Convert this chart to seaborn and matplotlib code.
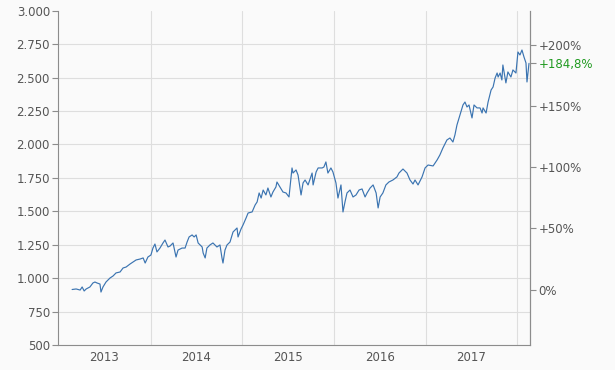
import matplotlib
matplotlib.use("Agg")
import matplotlib.pyplot as plt
import seaborn as sns
import pandas as pd

dates = [
    "2013-02-22", "2013-03-10", "2013-03-26", "2013-04-03", "2013-04-11", "2013-04-19",
    "2013-05-04", "2013-05-16", "2013-05-24", "2013-06-01", "2013-06-13", "2013-06-17",
    "2013-06-25", "2013-07-07", "2013-07-23", "2013-08-04", "2013-08-16", "2013-09-01",
    "2013-09-13", "2013-09-25", "2013-10-11", "2013-10-23", "2013-11-04", "2013-11-20",
    "2013-12-02", "2013-12-10", "2013-12-21", "2014-01-02", "2014-01-10", "2014-01-18",
    "2014-01-26", "2014-02-07", "2014-02-19", "2014-02-27", "2014-03-11", "2014-03-19",
    "2014-03-31", "2014-04-12", "2014-04-20", "2014-05-06", "2014-05-18", "2014-05-26",
    "2014-06-03", "2014-06-15", "2014-06-23", "2014-07-01", "2014-07-09", "2014-07-25",
    "2014-07-29", "2014-08-06", "2014-08-13", "2014-08-25", "2014-09-06", "2014-09-22",
    "2014-10-04", "2014-10-12", "2014-10-16", "2014-10-24", "2014-11-01", "2014-11-13",
    "2014-11-25", "2014-12-11", "2014-12-15", "2014-12-27", "2015-01-04", "2015-01-16",
    "2015-01-24", "2015-02-09", "2015-02-21", "2015-03-01", "2015-03-09", "2015-03-17",
    "2015-03-25", "2015-04-05", "2015-04-13", "2015-04-25", "2015-05-03", "2015-05-15",
    "2015-05-19", "2015-05-31", "2015-06-12", "2015-06-24", "2015-07-06", "2015-07-18",
    "2015-07-22", "2015-08-03", "2015-08-11", "2015-08-23", "2015-08-31", "2015-09-08",
    "2015-09-20", "2015-10-06", "2015-10-10", "2015-10-22", "2015-10-30", "2015-11-15",
    "2015-11-22", "2015-11-30", "2015-12-08", "2015-12-20", "2015-12-28", "2016-01-09",
    "2016-01-17", "2016-01-29", "2016-02-06", "2016-02-14", "2016-02-22", "2016-03-05",
    "2016-03-17", "2016-03-29", "2016-04-10", "2016-04-22", "2016-05-04", "2016-05-12",
    "2016-05-24", "2016-06-05", "2016-06-17", "2016-06-25", "2016-07-03", "2016-07-14",
    "2016-07-26", "2016-08-07", "2016-08-23", "2016-09-08", "2016-09-16", "2016-10-02",
    "2016-10-18", "2016-10-30", "2016-11-11", "2016-11-19", "2016-12-01", "2016-12-17",
    "2016-12-29", "2017-01-10", "2017-01-30", "2017-02-15", "2017-02-26", "2017-03-10",
    "2017-03-26", "2017-04-07", "2017-04-19", "2017-04-27", "2017-05-05", "2017-05-17",
    "2017-05-29", "2017-06-06", "2017-06-14", "2017-06-22", "2017-07-04", "2017-07-12",
    "2017-07-24", "2017-08-05", "2017-08-13", "2017-08-17", "2017-08-29", "2017-09-06",
    "2017-09-18", "2017-09-26", "2017-10-04", "2017-10-12", "2017-10-16", "2017-10-24",
    "2017-10-31", "2017-11-04", "2017-11-12", "2017-11-16", "2017-11-24", "2017-12-06",
    "2017-12-14", "2017-12-26", "2018-01-03", "2018-01-11", "2018-01-19", "2018-01-27",
    "2018-02-04", "2018-02-08", "2018-02-16",
]

values = [
    915, 919, 911, 934, 904, 919,
    934, 964, 971, 964, 956, 896,
    934, 971, 1001, 1016, 1039, 1046,
    1076, 1083, 1106, 1121, 1136, 1143,
    1151, 1113, 1158, 1173, 1225, 1255,
    1196, 1225, 1263, 1285, 1233, 1240,
    1263, 1158, 1210, 1225, 1225, 1270,
    1308, 1323, 1308, 1323, 1263, 1233,
    1188, 1151, 1225, 1248, 1263, 1233,
    1248, 1151, 1113, 1210, 1248, 1270,
    1345, 1375, 1308, 1368, 1398, 1450,
    1487, 1495, 1547, 1570, 1637, 1599,
    1659, 1622, 1674, 1607, 1644, 1682,
    1719, 1682, 1644, 1637, 1607, 1824,
    1786, 1809, 1771, 1622, 1712, 1734,
    1697, 1786, 1697, 1794, 1824, 1824,
    1831, 1869, 1786, 1824, 1794, 1712,
    1599, 1697, 1495, 1570, 1637, 1659,
    1607, 1622, 1659, 1667, 1607, 1637,
    1674, 1697, 1637, 1525, 1607, 1637,
    1697, 1719, 1734, 1757, 1786, 1816,
    1786, 1734, 1704, 1734, 1697, 1757,
    1824, 1846, 1839, 1884, 1921, 1973,
    2033, 2048, 2018, 2071, 2145, 2220,
    2295, 2317, 2280, 2295, 2198, 2295,
    2273, 2273, 2235, 2273, 2235, 2317,
    2407, 2430, 2497, 2534, 2504, 2534,
    2482, 2594, 2504, 2460, 2542, 2504,
    2557, 2534, 2691, 2669, 2706, 2654,
    2609, 2467, 2606,
]

y_ticks = [500, 750, 1000, 1250, 1500, 1750, 2000, 2250, 2500, 2750, 3000]
pct_ticks = [0, 50, 100, 150, 200]
year_labels = ["2013", "2014", "2015", "2016", "2017"]
year_bounds = ["2014-01-01", "2015-01-01", "2016-01-01", "2017-01-01", "2018-01-01"]

sns.set_theme(style="white")
plt.rcParams["font.family"] = ["DejaVu Sans"]

bg = "#fafafa"
txt = "#555555"
spine_c = "#8c8c8c"
grid_c = "#dedede"

fig = plt.figure(figsize=(6.15, 3.70), dpi=100, facecolor=bg)
ax = fig.add_axes([58.3 / 615, 1 - 345 / 370, (530 - 58.3) / 615, (345 - 10.7) / 370])
ax.set_facecolor(bg)

df = pd.DataFrame({"date": pd.to_datetime(dates), "value": values})
sns.lineplot(data=df, x="date", y="value", ax=ax, color="#3b74b1", linewidth=0.85)

ax.set_xlim(pd.Timestamp("2012-12-29"), pd.Timestamp("2018-02-20"))
ax.set_ylim(500, 3000)
ax.set_xlabel("")
ax.set_ylabel("")

ax.set_yticks(y_ticks)
ax.set_yticklabels([f"{v:,}".replace(",", ".") for v in y_ticks])
ax.set_xticks([pd.Timestamp(f"{y}-07-01") for y in year_labels])
ax.set_xticklabels(year_labels)
ax.set_xticks([pd.Timestamp(d) for d in year_bounds], minor=True)

ax.grid(False)
ax.grid(axis="y", which="major", color=grid_c, linewidth=0.8)
ax.grid(axis="x", which="minor", color=grid_c, linewidth=0.8)
ax.yaxis.get_gridlines()[-1].set_visible(False)

ax.tick_params(axis="x", which="both", length=0, pad=4, labelsize=8.5, labelcolor=txt)
ax.tick_params(axis="y", which="major", direction="out", length=4.5, width=0.8,
               color=spine_c, pad=1.5, labelsize=8.5, labelcolor=txt, left=True)

for s in ["left", "bottom", "right"]:
    ax.spines[s].set_visible(True)
    ax.spines[s].set_color(spine_c)
    ax.spines[s].set_linewidth(0.8)
ax.spines["top"].set_visible(False)

ax2 = ax.twinx()
ax2.set_ylim(500, 3000)
base = values[0]
r_ticks = [base * (1 + p / 100) for p in pct_ticks] + [values[-1]]
r_labels = [("+" if p > 0 else "") + f"{p}%" for p in pct_ticks]
last_pct = (values[-1] / base - 1) * 100
r_labels.append(f"+{last_pct:.1f}%".replace(".", ","))
ax2.set_yticks(r_ticks)
ax2.set_yticklabels(r_labels)
ax2.grid(False)
ax2.tick_params(axis="y", direction="out", length=4, width=0.8, color=spine_c,
                pad=2, labelsize=8.5, labelcolor=txt, right=True)
ax2.get_yticklabels()[-1].set_color("#1f9a1f")
for s in ["left", "bottom", "top"]:
    ax2.spines[s].set_visible(False)
ax2.spines["right"].set_color(spine_c)
ax2.spines["right"].set_linewidth(0.8)

fig.savefig("out.png", dpi=100, facecolor=bg)
